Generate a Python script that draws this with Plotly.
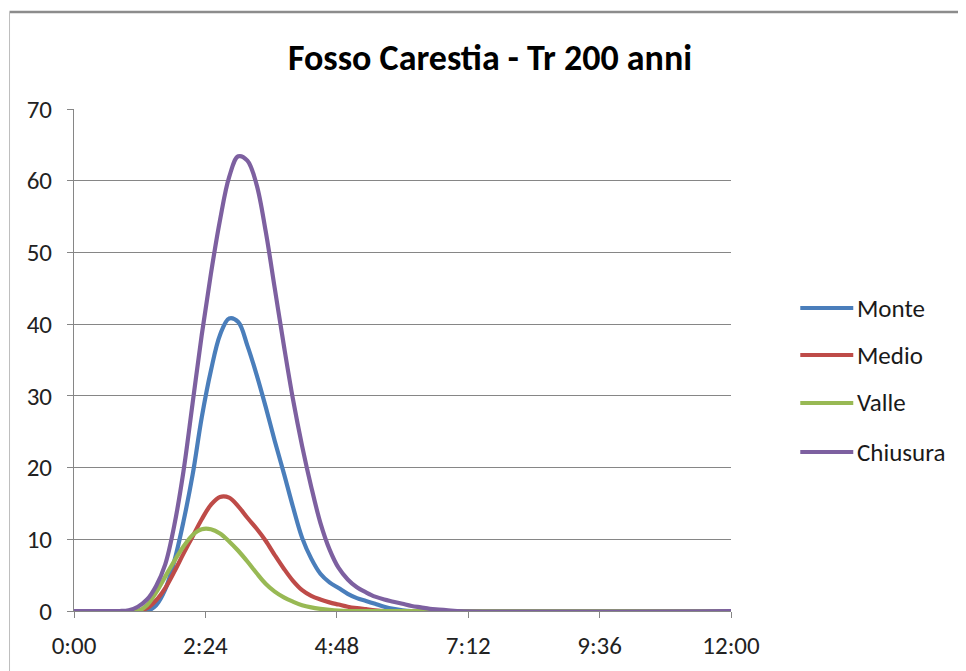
import plotly.graph_objects as go

# time in minutes
times = [0, 10, 20, 30, 40, 50, 60, 70, 80, 90, 100, 110, 120, 130, 140, 150, 160, 170, 180, 190,
         200, 210, 220, 230, 240, 250, 260, 270, 280, 290, 300, 310, 320, 330, 340, 350, 360, 370,
         380, 390, 400, 410, 420, 720]

monte = [0, 0, 0, 0, 0, 0, 0, 0, 0, 0.8, 3, 7, 12.5, 19, 27, 33.5, 38.5, 40.8, 40.3, 37,
         33, 28.5, 23.7, 19.2, 14.5, 10.2, 7.3, 5.2, 4.0, 3.2, 2.4, 1.8, 1.4, 1.0, 0.6, 0.3, 0.1, 0,
         0, 0, 0, 0, 0, 0]

medio = [0, 0, 0, 0, 0, 0, 0, 0, 0.4, 1.5, 3.2, 5.5, 8.0, 10.4, 12.8, 14.8, 15.9, 15.8, 14.6, 13.0,
         11.5, 9.8, 7.8, 5.9, 4.2, 2.9, 2.1, 1.6, 1.2, 0.9, 0.6, 0.4, 0.25, 0.1, 0, 0, 0, 0,
         0, 0, 0, 0, 0, 0]

valle = [0, 0, 0, 0, 0, 0, 0, 0, 0.8, 2.6, 4.8, 7.0, 9.0, 10.6, 11.4, 11.4, 10.8, 9.7, 8.4, 6.9,
         5.3, 3.8, 2.7, 1.9, 1.3, 0.8, 0.5, 0.3, 0.15, 0.05, 0, 0, 0, 0, 0, 0, 0, 0,
         0, 0, 0, 0, 0, 0]

chiusura = [0, 0, 0, 0, 0, 0, 0.1, 0.6, 1.6, 3.5, 6.5, 12, 19.5, 29, 38.5, 47, 54.5, 60.5, 63.4, 62.8,
            59.5, 53, 45, 37, 29.5, 23, 17.3, 12.3, 8.6, 6.0, 4.4, 3.3, 2.6, 2.0, 1.6, 1.3, 1.0, 0.7,
            0.5, 0.3, 0.2, 0.1, 0, 0]

series_names = ["Monte", "Medio", "Valle", "Chiusura"]
series_values = [monte, medio, valle, chiusura]
colors = ["#4A7EBB", "#BE4B48", "#98B954", "#7D60A0"]

tick_vals = [0, 144, 288, 432, 576, 720]
tick_text = ["0:00", "2:24", "4:48", "7:12", "9:36", "12:00"]
y_ticks = [0, 10, 20, 30, 40, 50, 60, 70]

FONT = "Calibri, Carlito, Lato, sans-serif"

# page offset (browser body margin) and plot-area geometry in screen pixels
OFF = 8
PL, PR, PT, PB = 73.5, 730.7, 109, 611
PW, PH = PR - PL, PB - PT


def px_x(ax):
    return (ax - PL) / PW


def px_y(ay):
    return (PB - ay) / PH


fig = go.Figure()
for name, vals, col in zip(series_names, series_values, colors):
    fig.add_trace(go.Scatter(
        x=times, y=vals, name=name, mode="lines",
        line=dict(color=col, width=4.2, shape="spline", smoothing=1.0),
        cliponaxis=False, showlegend=False,
    ))

shapes = [
    dict(type="line", xref="paper", yref="paper", x0=px_x(OFF + 1), x1=1.5,
         y0=px_y(12), y1=px_y(12), line=dict(color="#8C8C8C", width=2.5)),
    dict(type="line", xref="paper", yref="paper", x0=px_x(OFF + 1), x1=px_x(OFF + 1),
         y0=px_y(12), y1=-0.3, line=dict(color="#BDBDBD", width=1)),
]
annotations = []
legend_y = [308, 355, 403, 452]
for name, col, ly in zip(series_names, colors, legend_y):
    shapes.append(dict(type="line", xref="paper", yref="paper", x0=px_x(800), x1=px_x(853),
                       y0=px_y(ly), y1=px_y(ly), line=dict(color=col, width=4)))
    annotations.append(dict(text=name, xref="paper", yref="paper", x=px_x(855), y=px_y(ly),
                            xanchor="left", yanchor="middle", showarrow=False,
                            font=dict(family=FONT, size=25, color="#1a1a1a")))

fig.update_layout(
    width=966, height=671,
    margin=dict(l=PL - OFF, r=966 - (PR - OFF), t=PT - OFF, b=671 - (PB - OFF), pad=0),
    paper_bgcolor="white", plot_bgcolor="white",
    font=dict(family=FONT, size=25, color="#000000"),
    title=dict(text="<b>Fosso Carestia - Tr 200 anni</b>", x=(490 - OFF) / 966, xanchor="center",
               y=1 - (57 - OFF) / 671, yanchor="middle", font=dict(family=FONT, size=36, color="#000000")),
    showlegend=False,
    xaxis=dict(range=[0, 720], tickvals=tick_vals, ticktext=tick_text, showgrid=False,
               showline=True, linecolor="#868686", linewidth=1, ticks="outside", ticklen=6,
               tickcolor="#868686", zeroline=False, tickfont=dict(size=25, color="#222222"),
               ticklabelstandoff=6),
    yaxis=dict(range=[0, 70], tickvals=y_ticks, showgrid=True, gridcolor="#868686", gridwidth=1,
               showline=True, linecolor="#868686", linewidth=1, ticks="outside", ticklen=6,
               tickcolor="#868686", zeroline=False, tickfont=dict(size=25, color="#222222"),
               ticklabelstandoff=10),
    shapes=shapes,
    annotations=annotations,
)

fig.write_html("out.html")
